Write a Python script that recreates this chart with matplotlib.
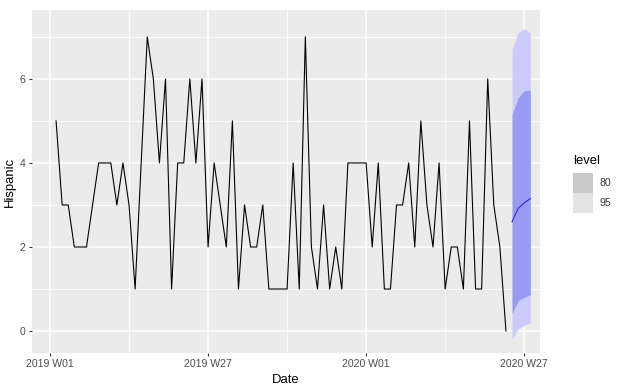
import matplotlib
matplotlib.use("Agg")
import matplotlib.pyplot as plt
from matplotlib.patches import Rectangle
import numpy as np

# ---- data ----
start_week = 1  # weeks after 2019 W01 (first observation = 2019 W02)
hispanic = [5, 3, 3, 2, 2, 2, 3, 4, 4, 4,
            3, 4, 3, 1, 4, 7, 6, 4, 6, 1,
            4, 4, 6, 4, 6, 2, 4, 3, 2, 5,
            1, 3, 2, 2, 3, 1, 1, 1, 1, 4,
            1, 7, 2, 1, 3, 1, 2, 1, 4, 4,
            4, 4, 2, 4, 1, 1, 3, 3, 4, 2,
            5, 3, 2, 4, 1, 2, 2, 1, 5, 1,
            1, 6, 3, 2, 0]
fc_mean = [2.60, 2.92, 3.05, 3.15]
fc_lo80 = [0.42, 0.72, 0.80, 0.86]
fc_hi80 = [5.14, 5.55, 5.72, 5.74]
fc_lo95 = [-0.20, 0.05, 0.14, 0.20]
fc_hi95 = [6.70, 7.10, 7.20, 7.10]
tick_weeks = [0, 26, 52, 78]
tick_labels = ["2019 W01", "2019 W27", "2020 W01", "2020 W27"]
levels = ["80", "95"]

obs_x = start_week + np.arange(len(hispanic))
fc_x = obs_x[-1] + 1 + np.arange(len(fc_mean))

W, H = 622, 392
DPI = 72
fig = plt.figure(figsize=(W / DPI, H / DPI), dpi=DPI)
plt.rcParams['font.family'] = ['Liberation Sans', 'DejaVu Sans']

L, R, T, B = 31.7, 540.0, 10.0, 353.3
ax = fig.add_axes([L / W, 1 - B / H, (R - L) / W, (B - T) / H])
ax.set_facecolor('#EBEBEB')
for s in ax.spines.values():
    s.set_visible(False)

ax.set_xlim(-3.01, 80.6)
ax.set_ylim(-0.53, 7.64)

ax.set_xticks(tick_weeks)
ax.set_xticklabels(tick_labels)
ax.set_xticks([13, 39, 65], minor=True)
ax.set_yticks([0, 2, 4, 6])
ax.set_yticks([1, 3, 5, 7], minor=True)
ax.grid(which='major', color='white', linewidth=1.5)
ax.grid(which='minor', color='white', linewidth=0.75)
ax.set_axisbelow(True)
ax.tick_params(which='major', length=3.3, width=1.1, color='#333333',
               labelsize=10.5, labelcolor='#4D4D4D', pad=2.6)
ax.tick_params(which='minor', length=0)

ax.plot(obs_x, hispanic, color='black', linewidth=1.1, zorder=3)
ax.fill_between(fc_x, fc_lo95, fc_hi95, color='#CBCBFA', linewidth=0, zorder=2)
ax.fill_between(fc_x, fc_lo80, fc_hi80, color='#9A9AF5', linewidth=0, zorder=2.1)
ax.plot(fc_x, fc_mean, color='#2B2BD0', linewidth=1.1, zorder=3)

fig.text((L + R) / 2 / W, 1 - 380 / H, "Date", ha='center', va='center',
         fontsize=13, color='black')
fig.text(10 / W, 1 - (T + B) / 2 / H, "Hispanic", ha='center', va='center',
         rotation=90, fontsize=13, color='black')

# legend
fig.text(573 / W, 1 - 161.5 / H, "level", ha='left', va='center', fontsize=13)
key_cols = ['#C9C9C9', '#E3E3E3']
for i, (lab, c) in enumerate(zip(levels, key_cols)):
    y0 = 173.5 + i * 20
    fig.patches.append(Rectangle((573 / W, 1 - (y0 + 20) / H), 20 / W, 20 / H,
                                 transform=fig.transFigure, facecolor=c,
                                 edgecolor='none'))
    fig.text(599 / W, 1 - (y0 + 10) / H, lab, ha='left', va='center',
             fontsize=10.5, color='#333333')

fig.savefig("out.png", dpi=DPI)
